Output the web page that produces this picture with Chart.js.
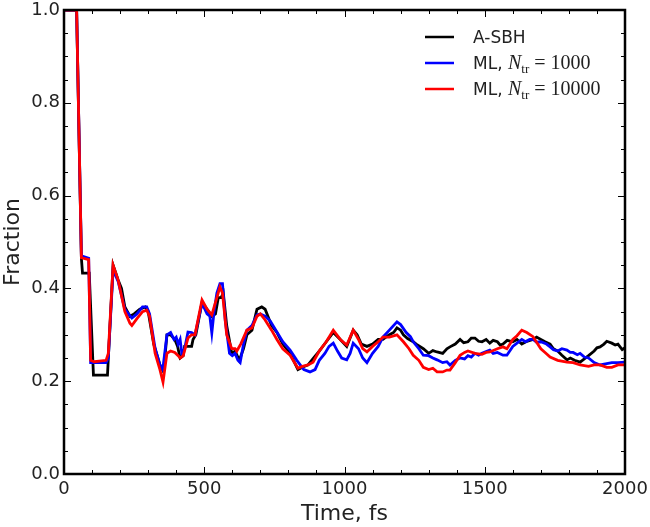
<!DOCTYPE html>
<html>
<head>
<meta charset="utf-8">
<script src="https://cdn.jsdelivr.net/npm/chart.js@4.4.1/dist/chart.umd.min.js"></script>
<style>
  html, body { margin: 0; padding: 0; background: #fff; }
  #wrap { width: 650px; height: 527px; }
</style>
</head>
<body>
<div id="wrap"><canvas id="chart" width="650" height="527"></canvas></div>
<script>
// A-SBH reference
const timeSBH = [0,45,62,66,90,105,155,175,193,205,217,235,250,270,290,300,320,342,355,367,380,395,405,414,425,430,455,460,470,492,510,527,540,550,560,568,580,598,610,625,640,652,670,688,705,717,740,759,780,806,834,850,870,890,910,935,960,985,1008,1031,1045,1060,1080,1100,1120,1137,1150,1160,1175,1187,1200,1210,1225,1245,1260,1281,1300,1315,1330,1350,1365,1376,1395,1412,1425,1440,1452,1465,1478,1490,1505,1518,1530,1545,1555,1565,1580,1600,1615,1632,1650,1672,1685,1700,1715,1733,1745,1760,1775,1793,1805,1820,1840,1855,1870,1890,1900,1911,1925,1935,1953,1965,1975,1990,2000];
const fracSBH = [1.0,1.0,0.465,0.433,0.433,0.213,0.213,0.45,0.418,0.40,0.36,0.34,0.345,0.355,0.36,0.35,0.28,0.235,0.22,0.30,0.30,0.29,0.275,0.25,0.255,0.275,0.275,0.29,0.30,0.37,0.355,0.34,0.345,0.38,0.38,0.39,0.32,0.26,0.265,0.245,0.27,0.30,0.31,0.355,0.36,0.355,0.32,0.305,0.28,0.26,0.225,0.23,0.235,0.25,0.265,0.285,0.305,0.29,0.275,0.31,0.30,0.28,0.275,0.28,0.29,0.29,0.296,0.30,0.305,0.315,0.31,0.30,0.292,0.285,0.278,0.27,0.26,0.266,0.263,0.26,0.27,0.274,0.28,0.29,0.283,0.285,0.293,0.293,0.286,0.285,0.29,0.282,0.288,0.285,0.278,0.28,0.288,0.285,0.29,0.28,0.286,0.29,0.295,0.29,0.285,0.28,0.27,0.265,0.256,0.246,0.25,0.245,0.241,0.248,0.255,0.265,0.272,0.274,0.28,0.286,0.282,0.278,0.28,0.268,0.272];

// ML, N_tr = 1000
const timeML1k = [0,45,62,88,95,108,150,158,175,193,217,242,260,280,295,305,325,342,352,367,380,392,400,407,414,420,430,442,455,467,492,510,520,527,535,545,556,565,575,590,600,610,620,628,640,652,670,688,700,717,735,759,780,806,830,855,877,895,910,930,945,960,975,990,1008,1020,1031,1050,1065,1080,1100,1120,1137,1160,1187,1200,1220,1235,1245,1265,1281,1300,1315,1330,1350,1365,1376,1395,1412,1428,1440,1452,1465,1478,1490,1505,1518,1530,1545,1565,1579,1600,1615,1632,1645,1660,1672,1685,1700,1720,1733,1745,1760,1775,1793,1805,1815,1830,1840,1855,1870,1890,1911,1935,1953,1975,2000];
const fracML1k = [1.0,1.0,0.47,0.465,0.24,0.24,0.24,0.25,0.44,0.415,0.355,0.336,0.345,0.36,0.36,0.345,0.27,0.235,0.225,0.30,0.305,0.29,0.295,0.28,0.29,0.26,0.27,0.306,0.305,0.30,0.368,0.345,0.34,0.304,0.35,0.39,0.41,0.41,0.33,0.26,0.255,0.26,0.245,0.24,0.28,0.31,0.32,0.343,0.345,0.34,0.33,0.306,0.285,0.267,0.245,0.225,0.22,0.225,0.245,0.26,0.275,0.282,0.265,0.25,0.246,0.26,0.282,0.27,0.25,0.24,0.26,0.275,0.295,0.31,0.328,0.322,0.305,0.296,0.285,0.27,0.256,0.255,0.25,0.246,0.24,0.242,0.235,0.245,0.25,0.248,0.255,0.252,0.26,0.256,0.26,0.264,0.267,0.26,0.262,0.256,0.256,0.275,0.282,0.29,0.285,0.29,0.29,0.284,0.285,0.28,0.274,0.268,0.265,0.27,0.267,0.262,0.262,0.257,0.26,0.252,0.25,0.24,0.235,0.238,0.24,0.24,0.241];

// ML, N_tr = 10000
const timeML10k = [0,45,62,88,95,108,150,158,175,193,217,235,242,260,280,295,305,325,342,353,367,380,395,407,414,425,442,455,467,492,510,527,540,556,565,580,598,610,616,630,652,670,688,700,717,740,759,780,806,834,850,870,888,910,935,960,985,1008,1031,1050,1065,1080,1100,1120,1137,1160,1187,1210,1230,1245,1265,1281,1300,1315,1330,1350,1365,1376,1395,1412,1428,1440,1465,1490,1505,1518,1545,1565,1579,1600,1615,1632,1650,1672,1700,1715,1733,1760,1793,1815,1840,1870,1890,1911,1935,1953,1975,2000];
const fracML10k = [1.0,1.0,0.466,0.462,0.245,0.242,0.245,0.26,0.45,0.418,0.35,0.325,0.32,0.335,0.35,0.353,0.34,0.26,0.225,0.198,0.26,0.265,0.262,0.255,0.25,0.255,0.293,0.30,0.30,0.375,0.355,0.343,0.37,0.403,0.39,0.30,0.27,0.27,0.265,0.28,0.31,0.315,0.34,0.345,0.332,0.31,0.29,0.27,0.256,0.228,0.232,0.235,0.241,0.265,0.285,0.31,0.29,0.278,0.31,0.29,0.27,0.263,0.275,0.285,0.295,0.295,0.30,0.285,0.27,0.256,0.245,0.23,0.225,0.228,0.22,0.22,0.224,0.224,0.24,0.256,0.262,0.265,0.26,0.258,0.262,0.263,0.27,0.274,0.27,0.29,0.298,0.31,0.305,0.296,0.27,0.262,0.252,0.245,0.241,0.24,0.235,0.232,0.235,0.235,0.23,0.23,0.235,0.235];

const xTicks = [0, 500, 1000, 1500, 2000];
const yTicks = [0.0, 0.2, 0.4, 0.6, 0.8, 1.0];

function pts(ts, vs) {
  return ts.map((t, i) => ({ x: t, y: vs[i] }));
}

const textColor = '#222';

// matplotlib style frame, inward ticks and the legend
const framePlugin = {
  id: 'frame',
  afterDraw(chart) {
    const ctx = chart.ctx;
    const a = chart.chartArea;
    const xs = chart.scales.x, ys = chart.scales.y;
    ctx.save();
    ctx.strokeStyle = '#000';
    ctx.lineWidth = 1;
    ctx.beginPath();
    for (let t = 0; t <= 2000; t += 100) {
      const px = Math.round(xs.getPixelForValue(t)) + 0.5;
      const len = t % 500 === 0 ? 7 : 4;
      ctx.moveTo(px, a.bottom); ctx.lineTo(px, a.bottom - len);
      ctx.moveTo(px, a.top); ctx.lineTo(px, a.top + len);
    }
    for (let k = 0; k <= 20; k++) {
      const py = Math.round(ys.getPixelForValue(k * 0.05)) + 0.5;
      const len = k % 4 === 0 ? 7 : 4;
      ctx.moveTo(a.left, py); ctx.lineTo(a.left + len, py);
      ctx.moveTo(a.right, py); ctx.lineTo(a.right - len, py);
    }
    ctx.stroke();
    ctx.lineWidth = 2.5;
    ctx.strokeRect(a.left, a.top, a.right - a.left, a.bottom - a.top);

    // legend
    const sans = '17px "DejaVu Sans"';
    const rows = [
      { color: '#000000', parts: [['A-SBH', sans, 0]] },
      { color: '#0000ff', parts: [['ML, ', sans, 0], ['N', 'italic 20px "Liberation Serif"', 0], ['tr', '13px "Liberation Serif"', 4], [' = 1000', '20px "Liberation Serif"', 0]] },
      { color: '#ff0000', parts: [['ML, ', sans, 0], ['N', 'italic 20px "Liberation Serif"', 0], ['tr', '13px "Liberation Serif"', 4], [' = 10000', '20px "Liberation Serif"', 0]] }
    ];
    const lx0 = 425, lx1 = 454, tx = 473, y0 = 37, dy = 26;
    rows.forEach((r, i) => {
      const y = y0 + i * dy;
      ctx.strokeStyle = r.color;
      ctx.lineWidth = 2.5;
      ctx.beginPath();
      ctx.moveTo(lx0, y); ctx.lineTo(lx1, y);
      ctx.stroke();
      let x = tx;
      ctx.fillStyle = textColor;
      ctx.textBaseline = 'alphabetic';
      ctx.textAlign = 'left';
      r.parts.forEach(p => {
        ctx.font = p[1];
        ctx.fillText(p[0], x, y + 6 + p[2]);
        x += ctx.measureText(p[0]).width;
      });
    });
    ctx.restore();
  }
};

const ctx = document.getElementById('chart').getContext('2d');
new Chart(ctx, {
  type: 'line',
  data: {
    datasets: [
      { label: 'A-SBH', data: pts(timeSBH, fracSBH), borderColor: '#000000', order: 3 },
      { label: 'ML, N_tr=1000', data: pts(timeML1k, fracML1k), borderColor: '#0000ff', order: 2 },
      { label: 'ML, N_tr=10000', data: pts(timeML10k, fracML10k), borderColor: '#ff0000', order: 1 }
    ]
  },
  options: {
    responsive: false,
    animation: false,
    layout: { padding: { left: 0, top: 10, right: 25, bottom: 0 } },
    elements: {
      point: { radius: 0 },
      line: { borderWidth: 2.8, tension: 0, fill: false }
    },
    plugins: {
      legend: { display: false },
      tooltip: { enabled: false }
    },
    scales: {
      x: {
        type: 'linear',
        min: 0, max: 2000,
        afterFit(s) { s.height = 53; s.paddingLeft = 0; s.paddingRight = 0; },
        afterBuildTicks(s) { s.ticks = xTicks.map(v => ({ value: v })); },
        grid: { display: false, drawTicks: false },
        border: { display: false },
        ticks: { color: textColor, font: { family: 'DejaVu Sans', size: 18 }, padding: 5, maxRotation: 0, callback: v => String(v) },
        title: { display: true, text: 'Time, fs', color: textColor, font: { family: 'DejaVu Sans', size: 22 }, padding: { top: 0, bottom: 0 } }
      },
      y: {
        min: 0, max: 1,
        afterFit(s) { s.width = 64; s.paddingTop = 0; s.paddingBottom = 0; },
        afterBuildTicks(s) { s.ticks = yTicks.map(v => ({ value: v })); },
        grid: { display: false, drawTicks: false },
        border: { display: false },
        ticks: { color: textColor, font: { family: 'DejaVu Sans', size: 18 }, padding: 4, callback: v => v.toFixed(1) },
        title: { display: true, text: 'Fraction', color: textColor, font: { family: 'DejaVu Sans', size: 22 }, padding: { top: 0, bottom: 0 } }
      }
    }
  },
  plugins: [framePlugin]
});
</script>
</body>
</html>
